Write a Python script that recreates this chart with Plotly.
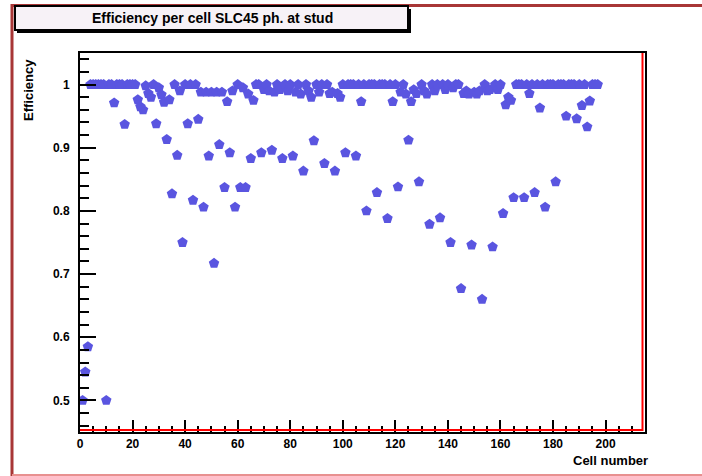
import plotly.graph_objects as go

# ---- data ----
cells = list(range(1, 198))
efficiency = [
    0.500, 0.545, 0.585, 1.0, 1.0, 1.0, 1.0, 1.0, 1.0, 0.500,
    1.0, 1.0, 0.971, 1.0, 1.0, 1.0, 0.937, 1.0, 1.0, 1.0,
    1.0, 0.976, 0.965, 0.960, 0.998, 0.986, 0.980, 1.0, 0.938, 0.995,
    0.984, 0.972, 0.913, 0.976, 0.827, 1.0, 0.888, 0.990, 0.750, 1.0,
    0.938, 1.0, 0.817, 1.0, 0.945, 0.988, 0.806, 0.988, 0.887, 0.988,
    0.717, 0.988, 0.905, 0.988, 0.837, 0.973, 0.892, 0.990, 0.806, 1.0,
    0.837, 0.995, 0.837, 0.985, 0.883, 0.975, 1.0, 1.0, 0.892, 0.992,
    1.0, 0.990, 0.896, 0.988, 1.0, 0.992, 0.883, 1.0, 0.990, 1.0,
    0.887, 0.988, 1.0, 0.985, 0.863, 1.0, 0.990, 0.980, 0.911, 1.0,
    0.988, 1.0, 0.875, 1.0, 0.986, 0.988, 0.863, 0.986, 0.980, 1.0,
    0.892, 1.0, 1.0, 1.0, 0.887, 1.0, 0.973, 1.0, 0.800, 1.0,
    1.0, 1.0, 0.829, 1.0, 1.0, 1.0, 0.788, 1.0, 0.973, 1.0,
    0.838, 0.988, 1.0, 0.985, 0.912, 0.973, 0.992, 0.986, 0.846, 1.0,
    0.990, 0.985, 0.779, 1.0, 0.990, 1.0, 0.789, 1.0, 0.992, 1.0,
    0.750, 0.995, 1.0, 1.0, 0.677, 0.986, 0.990, 0.985, 0.746, 0.988,
    0.985, 0.990, 0.660, 1.0, 0.990, 0.992, 0.743, 1.0, 0.992, 1.0,
    0.796, 0.968, 0.980, 0.975, 0.821, 1.0, 1.0, 1.0, 0.821, 1.0,
    0.986, 1.0, 0.829, 1.0, 0.963, 1.0, 0.806, 1.0, 1.0, 1.0,
    0.846, 1.0, 1.0, 1.0, 0.950, 1.0, 1.0, 1.0, 0.946, 1.0,
    0.967, 1.0, 0.933, 0.974, 1.0, 1.0, 1.0,
]
x_tickvals = [0, 20, 40, 60, 80, 100, 120, 140, 160, 180, 200]
x_ticktext = ["0", "20", "40", "60", "80", "100", "120", "140", "160", "180", "200"]
y_tickvals = [0.5, 0.6, 0.7, 0.8, 0.9, 1.0]
y_ticktext = ["0.5", "0.6", "0.7", "0.8", "0.9", "1"]

title_text = "Efficiency per cell SLC45 ph. at stud"
x_title = "Cell number"
y_title = "Efficiency"

# ---- layout geometry (pixels) ----
W, H = 702, 476
L, R, T, B = 80, 645, 53, 432


def px(xpix):
    return (xpix - L) / (R - L)


def py(ypix):
    return (B - ypix) / (B - T)


FONT = "Liberation Sans, Arial, sans-serif"
marker_color = "#5a55e0"
frame_red = "#a83636"

fig = go.Figure()
fig.add_trace(go.Scatter(
    x=cells, y=efficiency, mode="markers",
    marker=dict(symbol="pentagon", size=11, color=marker_color,
                line=dict(width=0)),
    showlegend=False, cliponaxis=True,
))

axis_common = dict(
    showgrid=False, zeroline=False, showline=True, linecolor="black",
    linewidth=2, mirror=True, ticks="inside", tickcolor="black",
    tickwidth=2,
    tickfont=dict(family=FONT, size=12, color="black", weight="bold"),
)

fig.update_xaxes(
    range=[0, 215], tickmode="array", tickvals=x_tickvals,
    ticktext=x_ticktext, ticklen=12,
    minor=dict(dtick=5, ticks="inside", ticklen=6, tickwidth=2,
               tickcolor="black"),
    ticklabelstandoff=0,
    **axis_common,
)
fig.update_yaxes(
    range=[0.45, 1.05], tickmode="array", tickvals=y_tickvals,
    ticktext=y_ticktext, ticklen=16,
    minor=dict(dtick=0.02, tick0=0.5, ticks="inside", ticklen=9,
               tickwidth=2, tickcolor="black"),
    ticklabelstandoff=6,
    **axis_common,
)

shapes = []
# red frame lines inside bottom and right
shapes.append(dict(type="line", xref="paper", yref="paper",
                   x0=0, x1=px(R - 2), y0=py(B - 2), y1=py(B - 2),
                   line=dict(color="red", width=2)))
shapes.append(dict(type="line", xref="paper", yref="paper",
                   x0=px(R - 2.5), x1=px(R - 2.5), y0=py(B - 1), y1=1,
                   line=dict(color="red", width=2)))
# canvas border lines
shapes.append(dict(type="line", xref="paper", yref="paper",
                   x0=px(12), x1=px(12), y0=py(4), y1=py(476),
                   line=dict(color=frame_red, width=3)))
shapes.append(dict(type="line", xref="paper", yref="paper",
                   x0=px(12), x1=px(702), y0=py(5.5), y1=py(5.5),
                   line=dict(color=frame_red, width=3)))
shapes.append(dict(type="line", xref="paper", yref="paper",
                   x0=px(12), x1=px(702), y0=py(475), y1=py(475),
                   line=dict(color="#e89090", width=2)))
# title box shadow and box
shapes.append(dict(type="rect", xref="paper", yref="paper",
                   x0=px(17), x1=px(411), y0=py(9), y1=py(33),
                   fillcolor="black", line=dict(width=0)))
shapes.append(dict(type="rect", xref="paper", yref="paper",
                   x0=px(15), x1=px(408), y0=py(6), y1=py(30),
                   fillcolor="#f7f2f7", line=dict(color="black", width=2)))

annotations = [
    dict(text=title_text, xref="paper", yref="paper", x=px(212), y=py(18),
         showarrow=False, xanchor="center", yanchor="middle",
         font=dict(family=FONT, size=14, color="black", weight="bold")),
    dict(text=y_title, xref="paper", yref="paper", x=px(28), y=py(90),
         showarrow=False, xanchor="center", yanchor="middle", textangle=-90,
         font=dict(family=FONT, size=13, color="black", weight="bold")),
    dict(text=x_title, xref="paper", yref="paper", x=px(650), y=py(460),
         showarrow=False, xanchor="right", yanchor="middle",
         font=dict(family=FONT, size=13, color="black", weight="bold")),
]

fig.update_layout(
    width=W, height=H,
    margin=dict(l=L, r=W - R, t=T, b=H - B, pad=0),
    paper_bgcolor="white", plot_bgcolor="white",
    shapes=shapes, annotations=annotations,
    showlegend=False,
)

fig.write_html("out.html")
